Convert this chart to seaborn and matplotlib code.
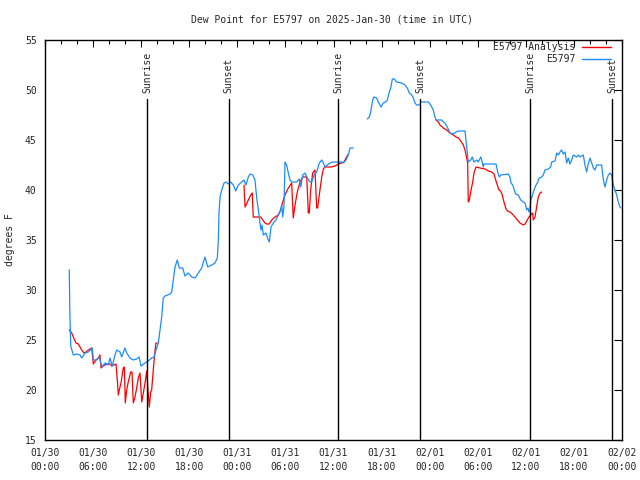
import numpy as np
import pandas as pd
import matplotlib
matplotlib.use("Agg")
import matplotlib.pyplot as plt
import seaborn as sns
from matplotlib.lines import Line2D
from matplotlib.ticker import MultipleLocator

# ---------------- data (hours since 2025-01-30 00:00 UTC) ----------------
obs_hours = [3.03, 3.09, 3.21, 3.53, 3.96, 4.37, 4.58, 4.99, 5.40, 5.90, 6.03, 6.45, 6.78, 7.08, 7.49,
             7.90, 8.11, 8.40, 8.73, 8.95, 9.36, 9.57, 9.98, 10.19, 10.61, 11.02, 11.44, 11.73, 11.98,
             12.48, 12.89, 13.31, 13.60, 13.85, 14.14, 14.35, 14.56, 14.76, 14.97, 15.60, 15.81, 16.01,
             16.22, 16.51, 16.76, 17.18, 17.47, 17.88, 18.31, 18.72, 19.13, 19.55, 19.96, 20.30, 20.80,
             21.21, 21.50, 21.63, 21.71, 21.84, 22.05, 22.34, 22.59, 22.87, 23.17, 23.50, 23.80, 24.12,
             24.54, 24.83, 25.08, 25.37, 25.58, 25.92, 26.20, 26.42, 26.62, 26.83, 26.95, 27.08, 27.24,
             27.58, 27.86, 27.99, 28.20, 28.49, 28.82, 29.11, 29.32, 29.54, 29.66, 29.82, 29.95, 30.16,
             30.36, 30.57, 30.78, 31.41, 31.73, 31.91, 32.16, 32.44, 32.66, 33.07, 33.28, 33.57, 33.90,
             34.23, 34.53, 34.73, 34.94, 35.23, 35.56, 35.97, 37.02, 37.22, 37.56, 37.85, 38.06, 38.47,
             39.3,
             40.22, 40.47, 40.64, 40.89, 41.05, 41.39, 41.59, 41.93, 42.21, 42.51, 42.71, 42.96, 43.14,
             43.34, 43.59, 43.89, 44.51, 44.92, 45.21, 45.46, 45.76, 45.96, 46.17, 46.38, 46.79, 46.88,
             47.83, 48.13, 48.45, 48.66, 48.79, 49.50, 49.70, 49.91, 50.20, 50.54, 50.95, 51.29, 51.57,
             52.41, 52.53, 52.70, 52.82, 53.12, 53.32, 53.53, 53.87, 54.07, 54.37, 54.49, 54.69, 54.78,
             56.28, 56.49, 56.69, 56.86, 57.81, 58.02, 58.15, 58.36, 58.56, 58.73, 59.06, 59.36, 59.68,
             59.90, 60.11, 60.27, 60.39, 60.52, 60.61, 60.73, 60.93, 61.27, 61.43, 61.68, 61.98, 62.18,
             62.39, 62.80, 63.10, 63.22, 63.64, 63.85, 64.05, 64.26, 64.47, 64.67, 64.89, 65.10, 65.30,
             65.51, 65.72, 65.92, 66.35, 66.55, 66.76, 67.17, 67.38, 67.59, 67.79, 68.01, 68.22, 68.42,
             68.63, 68.84, 69.46, 69.59, 69.75, 69.88, 70.09, 70.29, 70.50, 70.71, 70.91, 71.12, 71.34,
             71.54, 71.75, 71.87]
obs_dewpt = [32.0, 28.2, 24.4, 23.5, 23.6, 23.5, 23.2, 23.7, 23.8, 24.2, 23.0, 23.0, 23.3, 22.3, 22.7,
             22.5, 23.2, 22.4, 23.5, 24.0, 23.8, 23.3, 24.2, 23.7, 23.2, 23.0, 23.1, 23.3, 22.4,
             22.7, 22.9, 23.2, 23.3, 24.0, 24.7, 26.0, 27.3, 29.2, 29.4, 29.6, 29.8, 31.0,
             32.3, 33.0, 32.2, 32.2, 31.4, 31.7, 31.3, 31.2, 31.7, 32.2, 33.3, 32.3, 32.5,
             32.7, 33.2, 35.0, 37.7, 39.3, 40.0, 40.7, 40.8, 40.6, 40.8, 40.5, 39.9, 40.5,
             40.8, 41.0, 40.5, 41.3, 41.6, 41.5, 41.0, 39.2, 38.0, 36.7, 36.0, 36.5, 35.5,
             35.7, 35.0, 34.8, 36.3, 36.7, 37.0, 37.5, 37.8, 38.5, 37.3, 38.3, 42.8, 42.5,
             41.7, 41.0, 40.8, 40.8, 41.1, 40.3, 41.5, 41.7, 41.3, 40.8, 40.8, 41.5, 41.8,
             42.7, 43.0, 42.7, 42.3, 42.5, 42.7, 42.8, 42.8, 42.7, 43.0, 43.5, 44.2, 44.2,
             np.nan,
             47.1, 47.3, 47.8, 49.0, 49.3, 49.2, 48.8, 48.3, 48.7, 48.8, 49.0, 49.8, 50.2,
             51.1, 51.1, 50.8, 50.7, 50.5, 50.2, 49.7, 49.5, 49.2, 48.7, 48.5, 48.5, 48.8,
             48.8, 48.5, 48.0, 47.3, 47.0, 47.0, 46.8, 46.7, 46.3, 45.7, 45.6, 45.8, 45.9,
             45.9, 45.0, 43.7, 42.8, 43.0, 43.3, 42.8, 43.0, 42.8, 43.3, 43.0, 42.3, 42.6,
             42.6, 41.8, 41.3, 41.5, 41.6, 41.3, 40.7, 40.5, 40.0, 39.6, 39.5, 39.0, 38.8,
             38.7, 38.0, 38.2, 37.8, 38.0, 39.0, 39.2, 39.8, 40.5, 40.7, 41.2, 41.3, 41.5,
             42.0, 42.1, 42.3, 42.8, 42.9, 43.7, 43.5, 43.8, 44.0, 43.6, 43.8, 42.7, 43.2,
             42.6, 43.0, 43.5, 43.3, 43.5, 43.3, 43.5, 42.5, 41.8, 42.6, 43.2, 42.7, 42.2,
             42.0, 42.5, 42.5, 41.5, 40.7, 40.3, 41.0, 41.5, 41.7, 41.5, 40.5, 40.0, 39.5,
             38.8, 38.3, 38.2]

ana_hours = [3.03, 3.33, 3.53, 3.87, 4.16, 4.37, 4.58, 4.87, 5.12, 5.40, 5.83, 6.03, 6.36, 6.65, 6.86,
             6.99, 7.27, 7.70, 8.11, 8.32, 8.61, 8.86, 9.02, 9.15, 9.27, 9.48, 9.77, 9.90, 10.02, 10.19,
             10.39, 10.69, 10.86, 11.02, 11.23, 11.44, 11.64, 11.85, 12.07, 12.27, 12.48, 12.69, 12.82,
             13.01, 13.19, 13.31, 13.51, 13.73, 13.85, 14.01,
             19.0,
             24.83, 24.96, 25.37, 25.67, 25.87, 25.92, 25.99, 26.92, 27.17, 27.45, 27.66, 27.99, 28.29,
             28.70, 29.11, 29.41, 29.66, 29.95, 30.36, 30.78, 30.98, 31.20, 31.48, 31.82, 32.16, 32.66,
             32.86, 32.98, 33.15, 33.40, 33.69, 33.90, 34.02, 34.31, 34.53, 34.73, 34.94, 35.77, 36.19,
             36.60, 37.02, 37.31, 37.56, 37.85,
             43.0,
             48.79, 49.08, 49.29, 49.70, 50.12, 50.54, 50.95, 51.29, 51.57, 51.79, 52.20, 52.41, 52.62,
             52.74, 52.82, 52.95, 53.12, 53.37, 53.53, 53.78, 54.28, 54.91, 55.32, 55.74, 56.03, 56.24,
             56.44, 56.65, 56.86, 57.06, 57.27, 57.49, 57.69, 58.02, 58.31, 58.65, 58.94, 59.27, 59.68,
             59.90, 60.18, 60.39, 60.61, 60.85, 60.93, 61.14, 61.35, 61.55, 61.77, 61.98]
ana_dewpt = [26.0, 25.7, 25.3, 24.7, 24.6, 24.3, 24.0, 23.7, 23.8, 24.0, 24.2, 22.6, 23.0, 23.2, 23.5,
             22.2, 22.4, 22.6, 22.6, 22.4, 22.5, 22.6, 21.0, 19.5, 20.0, 20.7, 22.2, 22.3, 18.7, 20.0,
             20.8, 21.8, 21.8, 18.7, 19.3, 20.2, 21.2, 21.7, 18.8, 19.7, 20.7, 21.9, 20.3,
             18.3, 19.8, 20.0, 22.0, 24.0, 24.7, 24.7,
             np.nan,
             40.5, 38.3, 39.0, 39.5, 39.7, 38.5, 37.3, 37.3, 37.0, 36.7, 36.6, 36.6, 37.0,
             37.3, 37.5, 38.0, 38.8, 39.5, 40.2, 40.7, 37.2, 38.5, 39.8, 40.8, 41.3, 41.3,
             37.7, 37.7, 40.0, 41.7, 42.0, 38.2, 38.2, 40.0, 41.3, 42.1, 42.3, 42.3, 42.4,
             42.6, 42.7, 42.8, 43.2, 43.6,
             np.nan,
             47.0, 46.8, 46.5, 46.2, 46.0, 45.7, 45.5, 45.3, 45.2, 45.0, 44.5, 44.0, 43.2,
             42.7, 38.8, 39.0, 39.8, 40.8, 41.7, 42.3, 42.2, 42.1, 41.9, 41.8, 41.6, 41.0,
             40.5, 40.0, 39.9, 39.5, 38.8, 38.2, 37.9, 37.8, 37.6, 37.3, 37.0, 36.7, 36.5,
             36.6, 37.0, 37.3, 37.5, 37.7, 37.0, 37.3, 38.3, 39.3, 39.7, 39.8]

event_hours = [12.77, 22.92, 36.56, 46.79, 60.56, 70.79]
event_names = ["Sunrise", "Sunset", "Sunrise", "Sunset", "Sunrise", "Sunset"]

xtick_hours = [0, 6, 12, 18, 24, 30, 36, 42, 48, 54, 60, 66, 72]
xtick_labels = ["01/30\n00:00", "01/30\n06:00", "01/30\n12:00", "01/30\n18:00",
                "01/31\n00:00", "01/31\n06:00", "01/31\n12:00", "01/31\n18:00",
                "02/01\n00:00", "02/01\n06:00", "02/01\n12:00", "02/01\n18:00",
                "02/02\n00:00"]
ytick_vals = [15, 20, 25, 30, 35, 40, 45, 50, 55]

series_names = ["E5797 Analysis", "E5797"]
series_colors = {"E5797 Analysis": "#ff0000", "E5797": "#1a8cff"}


def to_frame(hours, vals, name):
    df = pd.DataFrame({"hour": hours, "dewpt": vals})
    df["seg"] = df["dewpt"].isna().cumsum()
    df = df.dropna()
    df["series"] = name
    return df


df = pd.concat([to_frame(ana_hours, ana_dewpt, series_names[0]),
                to_frame(obs_hours, obs_dewpt, series_names[1])], ignore_index=True)
df["unit"] = df["series"] + "_" + df["seg"].astype(str)

# ---------------- drawing ----------------
sns.set_style("white")
plt.rcParams["font.family"] = ["DejaVu Sans Mono", "DejaVu Sans"]
plt.rcParams["font.size"] = 7

fig = plt.figure(figsize=(6.4, 4.8), dpi=100)
ax = fig.add_axes([45 / 640, 1 - 440 / 480, (622 - 45) / 640, 400 / 480])

for name in series_names:
    sub = df[df["series"] == name]
    sns.lineplot(data=sub, x="hour", y="dewpt", units="unit", estimator=None,
                 color=series_colors[name], linewidth=0.9, ax=ax, legend=False, sort=False)

ax.set_xlim(0, 72)
ax.set_ylim(15, 55)

for h, name in zip(event_hours, event_names):
    ax.plot([h, h], [15, 49.1], color="black", linewidth=1.0)
    ax.text(h, 49.7, name, rotation=90, ha="center", va="bottom", fontsize=7)

ax.set_xticks(xtick_hours)
ax.set_xticklabels(xtick_labels, linespacing=1.45)
ax.xaxis.set_minor_locator(MultipleLocator(2))
ax.set_yticks(ytick_vals)
ax.set_yticklabels([str(v) for v in ytick_vals])
ax.tick_params(axis="both", which="both", direction="in", top=True, right=True,
               labelsize=7, color="black", width=0.8)
ax.tick_params(axis="x", which="major", length=5, pad=6)
ax.tick_params(axis="x", which="minor", length=3)
ax.tick_params(axis="y", which="major", length=6, pad=6)
for sp in ax.spines.values():
    sp.set_color("black")
    sp.set_linewidth(1.0)
ax.set_xlabel("")
ax.set_ylabel("")

fig.text(332 / 640, 1 - 19 / 480, "Dew Point for E5797 on 2025-Jan-30 (time in UTC)",
         ha="center", va="center", fontsize=7)
fig.text(10 / 640, 0.5, "degrees F", rotation=90, ha="center", va="center", fontsize=7)

handles = [Line2D([], [], color=series_colors[n], linewidth=1.0) for n in series_names]
ax.legend(handles, series_names, loc="upper right", markerfirst=False, frameon=False,
          bbox_to_anchor=(611 / 640, 1 - 42 / 480), bbox_transform=fig.transFigure,
          borderpad=0, borderaxespad=0, handlelength=3.0, handletextpad=0.7,
          labelspacing=0.25, fontsize=7)

fig.savefig("out.png", dpi=100)
